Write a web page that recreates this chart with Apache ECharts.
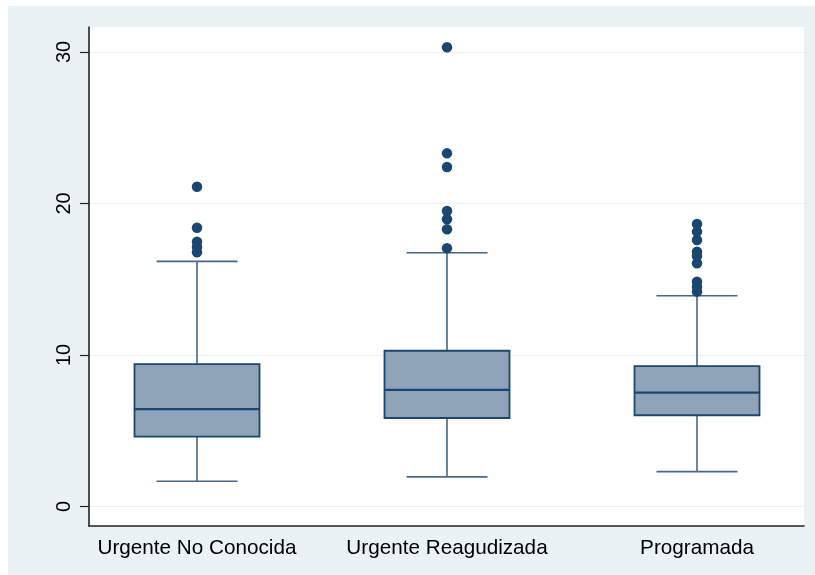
<!DOCTYPE html>
<html>
<head>
<meta charset="utf-8">
<script src="https://cdn.jsdelivr.net/npm/echarts@6/dist/echarts.min.js"></script>
<style>
  html, body { margin: 0; padding: 0; background: #ffffff; }
  #chart { width: 815px; height: 575px; }
</style>
</head>
<body>
<div id="chart"></div>
<script>
// Groups shown on the horizontal axis
const categories = ['Urgente No Conocida', 'Urgente Reagudizada', 'Programada'];

// Box statistics per group: lower whisker, Q1, median, Q3, upper whisker
const lowerWhisker = [1.66, 1.95, 2.30];
const q1Values     = [4.61, 5.84, 6.02];
const medians      = [6.42, 7.69, 7.51];
const q3Values     = [9.39, 10.28, 9.27];
const upperWhisker = [16.18, 16.75, 13.91];

// Observations beyond the whiskers, per group
const outliersNoConocida  = [21.11, 18.40, 17.48, 17.13, 16.78];
const outliersReagudizada = [30.31, 23.31, 22.41, 19.50, 18.96, 18.30, 17.04];
const outliersProgramada  = [18.65, 18.14, 17.59, 16.82, 16.53, 16.05, 14.84, 14.51, 14.18];

// Y axis tick labels
const yTicks = [0, 10, 20, 30];

const outlierGroups = [outliersNoConocida, outliersReagudizada, outliersProgramada];

const boxData = categories.map((c, i) => [
  i + 1, lowerWhisker[i], q1Values[i], medians[i], q3Values[i], upperWhisker[i]
]);

const outlierData = [];
outlierGroups.forEach((arr, i) => arr.forEach(v => outlierData.push([i + 1, v])));

const NAVY = '#1a476f';
const FILL = '#8ea3b7';
const WHISKER = '#46678a';
const BG = '#eaf2f3';
const BOX_HALF = 0.25;   // half box width in axis units
const CAP_HALF = 0.162;  // half whisker-cap width in axis units

function renderBox(params, api) {
  const x = api.value(0);
  const lw = api.coord([x, api.value(1)]);
  const q1 = api.coord([x, api.value(2)]);
  const md = api.coord([x, api.value(3)]);
  const q3 = api.coord([x, api.value(4)]);
  const uw = api.coord([x, api.value(5)]);
  const left = api.coord([x - BOX_HALF, 0])[0];
  const right = api.coord([x + BOX_HALF, 0])[0];
  const capL = api.coord([x - CAP_HALF, 0])[0];
  const capR = api.coord([x + CAP_HALF, 0])[0];
  const cx = lw[0];
  const whiskerStyle = { stroke: WHISKER, lineWidth: 1.6 };
  return {
    type: 'group',
    children: [
      { type: 'line', shape: { x1: cx, y1: q3[1], x2: cx, y2: uw[1] }, style: whiskerStyle },
      { type: 'line', shape: { x1: cx, y1: q1[1], x2: cx, y2: lw[1] }, style: whiskerStyle },
      { type: 'line', shape: { x1: capL, y1: uw[1], x2: capR, y2: uw[1] }, style: whiskerStyle },
      { type: 'line', shape: { x1: capL, y1: lw[1], x2: capR, y2: lw[1] }, style: whiskerStyle },
      { type: 'rect', shape: { x: left, y: q3[1], width: right - left, height: q1[1] - q3[1] },
        style: { fill: FILL, stroke: NAVY, lineWidth: 1.8 } },
      { type: 'line', shape: { x1: left, y1: md[1], x2: right, y2: md[1] },
        style: { stroke: NAVY, lineWidth: 2.2 } }
    ]
  };
}

const chart = echarts.init(document.getElementById('chart'), null, { renderer: 'canvas' });

chart.setOption({
  backgroundColor: '#ffffff',
  animation: false,
  textStyle: { fontFamily: 'Liberation Sans, Arial, sans-serif' },
  graphic: [{
    type: 'rect', z: -100, silent: true,
    shape: { x: 8, y: 6, width: 807, height: 569 },
    style: { fill: BG }
  }],
  grid: {
    left: 89, right: 11, top: 27, bottom: 49,
    show: true, backgroundColor: '#ffffff', borderWidth: 0
  },
  xAxis: {
    type: 'value',
    min: 0.568, max: 3.428,
    axisLine: { show: true, onZero: false, lineStyle: { color: '#222222', width: 1.6 } },
    axisTick: { show: false },
    splitLine: { show: false },
    axisLabel: {
      customValues: [1, 2, 3],
      formatter: v => categories[Math.round(v) - 1] || '',
      color: '#000000', fontSize: 20.7, margin: 12
    }
  },
  yAxis: {
    type: 'value',
    min: -1.29, max: 31.65,
    axisLine: { show: true, onZero: false, lineStyle: { color: '#222222', width: 1.6 } },
    axisTick: { show: true, length: 9, customValues: yTicks, lineStyle: { color: '#222222', width: 1.2 } },
    axisLabel: {
      customValues: yTicks,
      rotate: 90, color: '#000000', fontSize: 20, margin: 15
    },
    splitLine: { show: true, lineStyle: { color: BG, width: 1.2 } }
  },
  series: [
    {
      type: 'custom',
      renderItem: renderBox,
      data: boxData,
      encode: { x: 0, y: [1, 2, 3, 4, 5] },
      z: 2
    },
    {
      type: 'scatter',
      data: outlierData,
      symbol: 'circle',
      symbolSize: 10.5,
      itemStyle: { color: NAVY, opacity: 1 },
      z: 3
    }
  ]
});
</script>
</body>
</html>
